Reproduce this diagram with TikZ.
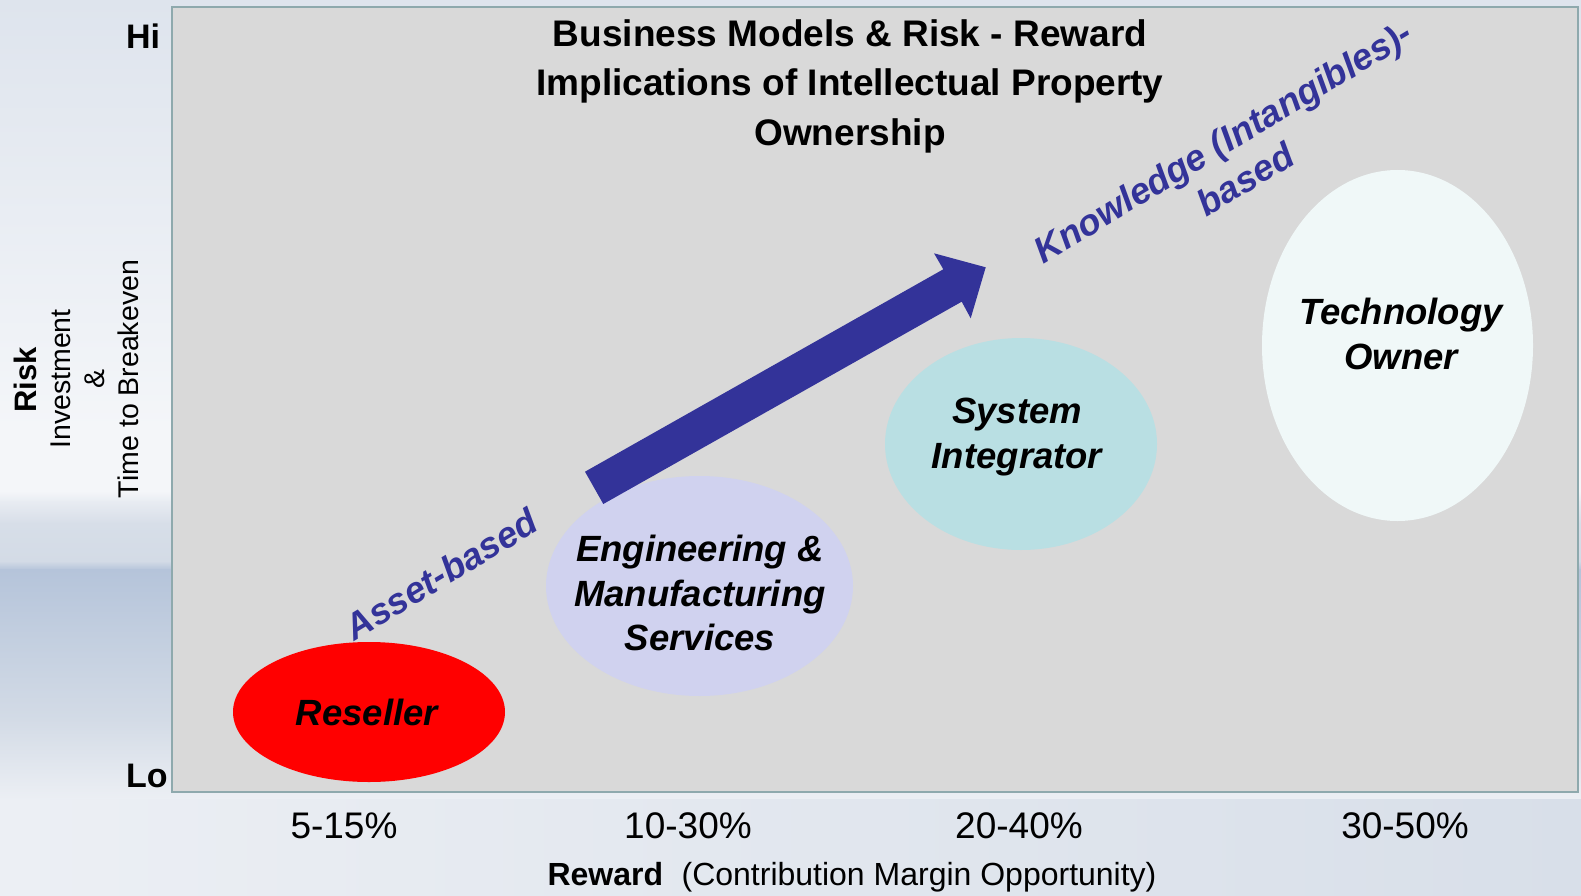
\documentclass[tikz,border=0pt]{standalone}
\usepackage{fontspec}
\setmainfont{Liberation Sans}
\usetikzlibrary{shapes.geometric}

\definecolor{chartgray}{HTML}{D9D9D9}
\definecolor{frameteal}{HTML}{8EA9AD}
\definecolor{indigo}{HTML}{333399}
\definecolor{lavender}{HTML}{D0D2EF}
\definecolor{paleteal}{HTML}{B9DFE3}
\definecolor{mint}{HTML}{F0F8F8}
\definecolor{bgtop}{HTML}{DEE4ED}
\definecolor{bgmid}{HTML}{F4F6F9}
\definecolor{bandlight}{HTML}{E8ECF2}
\definecolor{bandmid}{HTML}{D7DEE8}
\definecolor{banddark}{HTML}{B5C4DA}
\definecolor{bandlow}{HTML}{D3DBE6}
\definecolor{bgbotleft}{HTML}{ECEFF4}
\definecolor{bgbotright}{HTML}{D8DFE9}

\begin{document}
\begin{tikzpicture}[x=1pt,y=-1pt,
  model/.style={ellipse, draw=none, inner sep=0pt},
  modeltext/.style={inner sep=0pt, align=center,
    font=\fontsize{36.5}{44.5}\selectfont\bfseries\itshape},
  trendtext/.style={inner sep=0pt, align=center, text=indigo,
    font=\fontsize{36.5}{44}\selectfont\bfseries\itshape},
  titletext/.style={inner sep=0pt, align=center,
    font=\fontsize{37}{49.5}\selectfont\bfseries},
  rangetext/.style={inner sep=0pt, font=\fontsize{37}{44}\selectfont},
  endtext/.style={inner sep=0pt, anchor=west, font=\fontsize{34}{40}\selectfont\bfseries},
  sidetext/.style={inner sep=0pt, rotate=90, font=\fontsize{28.5}{34}\selectfont},
]
\useasboundingbox (0,0) rectangle (1581,896);

% backdrop
\shade[top color=bgtop, bottom color=bgmid] (0,0) rectangle (1581,430);
\fill[bgmid] (0,429) rectangle (1581,492);
\shade[top color=bgmid, bottom color=bandlight] (0,491) rectangle (1581,502);
\shade[top color=bandlight, bottom color=bandmid] (0,501) rectangle (1581,524);
\shade[top color=bandmid, bottom color=bandlow] (0,523) rectangle (1581,562);
\shade[top color=bandlow, bottom color=banddark] (0,561) rectangle (1581,570);
\shade[top color=banddark, bottom color=bandlow] (0,569) rectangle (1581,720);
\shade[top color=bandlow, bottom color=bgbotleft] (0,719) rectangle (1581,800);
\shade[left color=bgbotleft, right color=bgbotright] (0,799) rectangle (1581,896);

% chart panel
\node[draw=frameteal, line width=2.5pt, fill=chartgray, inner sep=0pt,
  minimum width=1406pt, minimum height=785pt] (panel) at (875,399.5) {};

% title
\node[titletext] (title) at (850,86) {Business Models \& Risk - Reward\\Implications of Intellectual Property\\Ownership};

% axis ends
\node[endtext] (hi) at (126,36.5) {Hi};
\node[endtext] (lo) at (126,776) {Lo};

% vertical axis caption
\node[sidetext, font=\fontsize{31}{36}\selectfont\bfseries] (risk) at (25,380) {Risk};
\node[sidetext] (invest) at (61,379) {Investment};
\node[sidetext] (amp) at (95,379) {\&};
\node[sidetext] (breakeven) at (128,379) {Time to Breakeven};

% business models
\node[model, fill=red, minimum width=272pt, minimum height=140pt] (resellerE) at (369,712) {};
\node[modeltext] (reseller) at (367,712) {Reseller};

\node[model, fill=lavender, minimum width=307pt, minimum height=220pt] (emsE) at (699.5,586) {};
\node[modeltext] (ems) at (700,593) {Engineering \&\\Manufacturing\\Services};

\node[model, fill=paleteal, minimum width=272pt, minimum height=212pt] (siE) at (1021,444) {};
\node[modeltext] (si) at (1017,437) {System\\Integrator};

\node[model, fill=mint, minimum width=271pt, minimum height=351pt] (toE) at (1397.5,345.5) {};
\node[modeltext] (to) at (1401,334) {Technology\\Owner};

% block arrow
\coordinate (tailA) at (585,471.7);
\coordinate (tailB) at (603.3,504);
\coordinate (neckB) at (961.7,301.7);
\coordinate (barbB) at (970.7,318.3);
\coordinate (tip) at (985.7,267.3);
\coordinate (barbA) at (934,253.3);
\coordinate (neckA) at (943.3,269.3);
\fill[indigo] (tailA) -- (neckA) -- (barbA) -- (tip) -- (barbB) -- (neckB) -- (tailB) -- cycle;

% trend labels
\node[trendtext, rotate=31] (asset) at (441,574) {Asset-based};
\node[trendtext, rotate=31] (knowledge) at (1234,160) {Knowledge (Intangibles)-\\based};

% reward ranges
\node[rangetext] (r1) at (344,826) {5-15\%};
\node[rangetext] (r2) at (688,826) {10-30\%};
\node[rangetext] (r3) at (1019,826) {20-40\%};
\node[rangetext] (r4) at (1405,826) {30-50\%};

% horizontal axis caption
\node[inner sep=0pt, font=\fontsize{32}{38}\selectfont] (reward) at (852,877)
  {\textbf{Reward}\hspace{0.3em} (Contribution Margin Opportunity)};
\end{tikzpicture}
\end{document}
